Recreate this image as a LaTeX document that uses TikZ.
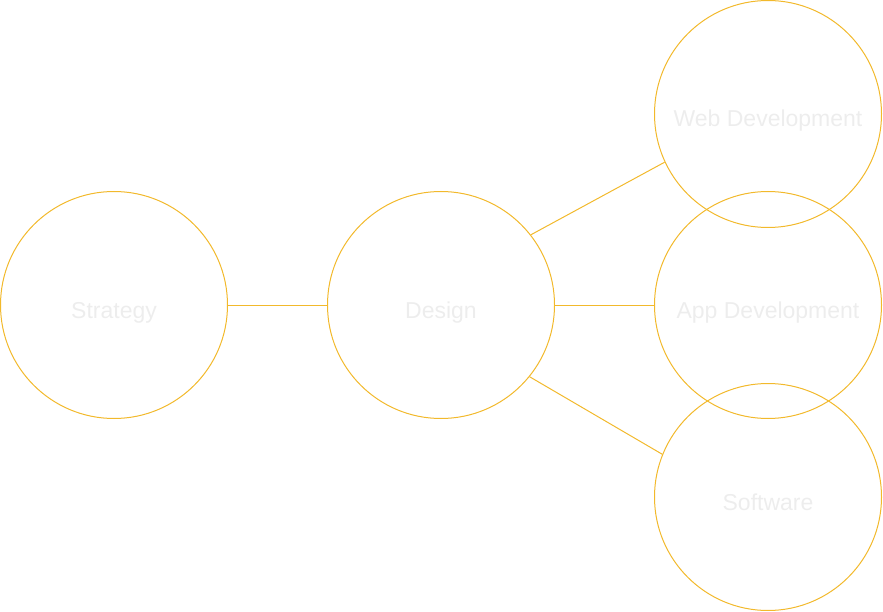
\documentclass[tikz,border=0pt]{standalone}
\usepackage{fontspec}
\setmainfont{Liberation Sans}
\usepackage{tikz}
\definecolor{ringyellow}{HTML}{F2B92C}
\definecolor{faintgray}{HTML}{EDEDED}

\begin{document}
\begin{tikzpicture}[x=1pt,y=-1pt,
  area/.style={draw=ringyellow, circle, line width=1pt, minimum size=227pt,
    inner sep=0pt, text height=26pt, text depth=0pt,
    font=\fontsize{23}{26}\selectfont, text=faintgray},
  link/.style={draw=ringyellow, line width=1pt}
]
\useasboundingbox (0,0) rectangle (883,612);
\node[area] (strategy) at (114,305) {Strategy};
\node[area] (design) at (441,305) {Design};
\node[area] (web) at (768,114) {Web Development};
\node[area] (app) at (768,305) {App Development};
\node[area] (soft) at (768,497) {Software};

\draw[link] (strategy) -- (design);
\draw[link] (design.38) -- (web.205);
\draw[link] (design) -- (app);
\draw[link] (design.-39) -- (soft.158);
\end{tikzpicture}
\end{document}
